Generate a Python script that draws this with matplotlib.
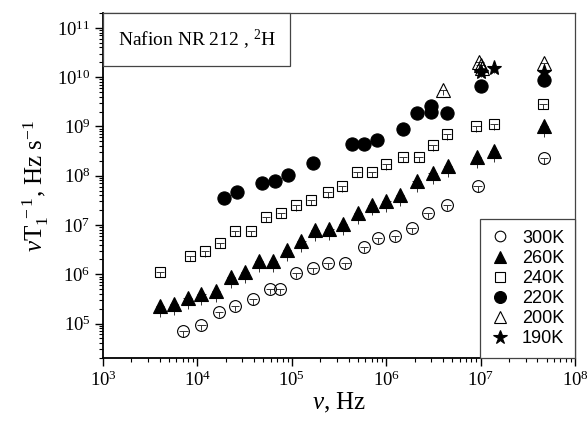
import numpy as np
import matplotlib
matplotlib.use("Agg")
import matplotlib.pyplot as plt
from matplotlib.lines import Line2D
from matplotlib.offsetbox import AnchoredText

# ==========================
# data
# ==========================
nu_300 = [7.1e3, 1.1e4, 1.7e4, 2.5e4, 3.9e4, 5.9e4, 7.5e4, 1.12e5, 1.66e5, 2.4e5,
          3.7e5, 5.8e5, 8.2e5, 1.24e6, 1.86e6, 2.75e6, 4.4e6, 9.3e6, 4.7e7]
r_300 = [6.9e4, 9.5e4, 1.75e5, 2.3e5, 3.1e5, 5.1e5, 5.1e5, 1.07e6, 1.35e6, 1.7e6,
         1.7e6, 3.6e6, 5.5e6, 6.0e6, 8.7e6, 1.75e7, 2.6e7, 6.1e7, 2.25e8]

nu_260 = [4.0e3, 5.65e3, 7.9e3, 1.1e4, 1.58e4, 2.27e4, 3.2e4, 4.5e4, 6.3e4, 8.9e4,
          1.26e5, 1.76e5, 2.5e5, 3.5e5, 5.0e5, 7.1e5, 1.0e6, 1.4e6, 2.1e6, 3.1e6,
          4.5e6, 9.2e6, 1.38e7, 4.7e7]
r_260 = [2.3e5, 2.5e5, 3.35e5, 4.0e5, 4.6e5, 8.9e5, 1.13e6, 1.87e6, 1.87e6, 3.1e6,
         4.8e6, 8.0e6, 8.4e6, 1.05e7, 1.75e7, 2.6e7, 3.0e7, 4.0e7, 7.8e7, 1.12e8,
         1.56e8, 2.35e8, 3.1e8, 1.0e9]

nu_240 = [4.0e3, 8.4e3, 1.2e4, 1.74e4, 2.5e4, 3.7e4, 5.3e4, 7.7e4, 1.11e5, 1.6e5,
          2.4e5, 3.4e5, 4.9e5, 7.1e5, 1.0e6, 1.5e6, 2.2e6, 3.1e6, 4.4e6, 9.0e6,
          1.38e7, 4.6e7]
r_240 = [1.12e6, 2.35e6, 2.9e6, 4.3e6, 7.6e6, 7.6e6, 1.45e7, 1.75e7, 2.5e7, 3.2e7,
         4.6e7, 6.1e7, 1.18e8, 1.18e8, 1.7e8, 2.45e8, 2.45e8, 4.1e8, 6.9e8, 1.0e9,
         1.1e9, 2.9e9]

nu_220 = [1.9e4, 2.6e4, 4.8e4, 6.6e4, 9.1e4, 1.66e5, 4.3e5, 5.8e5, 8.0e5, 1.5e6,
          2.1e6, 3.0e6, 3.0e6, 4.4e6, 1.0e7, 4.7e7]
r_220 = [3.5e7, 4.65e7, 7.1e7, 7.8e7, 1.03e8, 1.77e8, 4.3e8, 4.5e8, 5.3e8, 8.7e8,
         1.9e9, 2.6e9, 2.0e9, 1.9e9, 6.5e9, 8.9e9]

nu_200 = [4.0e6, 9.7e6, 1.0e7, 1.03e7, 4.7e7]
r_200 = [5.6e9, 2.05e10, 1.8e10, 1.55e10, 1.9e10]

nu_190 = [1.0e7, 1.38e7, 4.7e7]
r_190 = [1.3e10, 1.55e10, 1.3e10]

labels = ["300K", "260K", "240K", "220K", "200K", "190K"]

# ==========================
# style
# ==========================
plt.rcParams["font.family"] = "serif"
plt.rcParams["font.serif"] = ["Liberation Serif", "DejaVu Serif"]
plt.rcParams["mathtext.fontset"] = "custom"
plt.rcParams["mathtext.rm"] = "Liberation Serif"
plt.rcParams["mathtext.it"] = "Liberation Serif:italic"

fig = plt.figure(figsize=(5.87, 4.24), dpi=100)
ax = fig.add_axes([0.1755, 0.1557, 0.9796 - 0.1755, 0.9693 - 0.1557])

# (nu, r, marker, size, filled, lower error fraction)
series = [
    (nu_300, r_300, "o", 8.5, False, 0.22),
    (nu_260, r_260, "^", 10, True, 0.40),
    (nu_240, r_240, "s", 7.5, False, 0.22),
    (nu_220, r_220, "o", 9.5, True, 0.22),
    (nu_200, r_200, "^", 10, False, 0.22),
    (nu_190, r_190, "*", 11, True, 0.22),
]

for nu, r, m, ms, filled, lo in series:
    nu = np.array(nu)
    r = np.array(r)
    xerr = [nu * (1 - 1 / 1.11), nu * 0.11]
    yerr = [r * lo, r * 0.0]
    ax.errorbar(nu, r, xerr=xerr, yerr=yerr, fmt=m, ms=ms,
                mfc="black" if filled else "none", mec="black", mew=0.8,
                ecolor="#333333", elinewidth=0.7, capsize=0)

ax.set_xscale("log")
ax.set_yscale("log")
ax.set_xlim(1e3, 1e8)
ax.set_ylim(2e4, 2e11)

ax.xaxis.set_minor_locator(matplotlib.ticker.LogLocator(base=10, subs=np.arange(2, 10)))
ax.yaxis.set_minor_locator(matplotlib.ticker.LogLocator(base=10, subs=np.arange(2, 10), numticks=20))
ax.yaxis.set_major_locator(matplotlib.ticker.LogLocator(base=10, numticks=20))
ax.xaxis.set_minor_formatter(matplotlib.ticker.NullFormatter())
ax.yaxis.set_minor_formatter(matplotlib.ticker.NullFormatter())

ax.tick_params(which="major", direction="out", length=6, width=1, labelsize=13.5, pad=3)
ax.tick_params(which="minor", direction="out", length=3, width=0.8)

for s in ["left", "bottom"]:
    ax.spines[s].set_linewidth(1.3)
for s in ["top", "right"]:
    ax.spines[s].set_linewidth(0.9)
    ax.spines[s].set_color("#444444")

ax.set_xlabel(r"$\mathit{v}$, Hz", fontsize=18, labelpad=1)
ax.set_ylabel(r"$\mathit{v}\mathrm{T}_1^{\ -1}$, Hz s$^{-1}$", fontsize=18, labelpad=4)

# sample box
at = AnchoredText(r"Nafion NR 212 , $^2$H", loc="upper left", pad=0.75, borderpad=0,
                  prop=dict(size=14, family="serif"), frameon=True)
at.patch.set_edgecolor("#444444")
at.patch.set_linewidth(0.9)
ax.add_artist(at)

# legend
handles = []
for (nu, r, m, ms, filled, lo), lab in zip(series, labels):
    handles.append(Line2D([], [], ls="none", marker=m, ms=ms * 0.9,
                          mfc="black" if filled else "none", mec="black", mew=0.8,
                          label=lab))
leg = ax.legend(handles=handles, loc="lower right", borderaxespad=0, fancybox=False,
                edgecolor="#444444", framealpha=1, handlelength=1.0, handletextpad=0.7,
                labelspacing=0.17, borderpad=0.6, prop=dict(family="Liberation Sans", size=13))
leg.get_frame().set_linewidth(0.9)

plt.savefig("out.png", dpi=100)
plt.close()
